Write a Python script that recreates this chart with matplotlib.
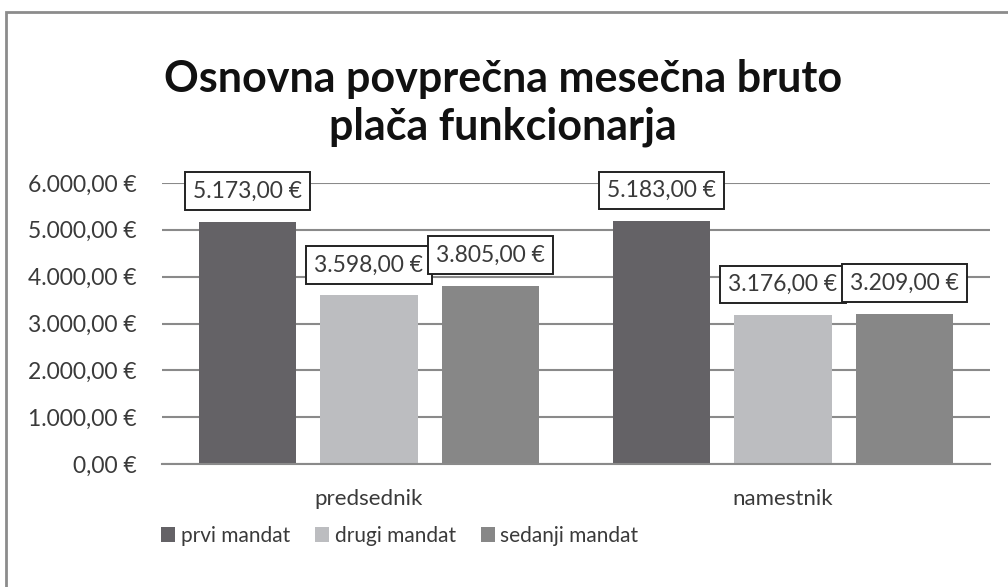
import matplotlib as mpl
import matplotlib.pyplot as plt
import numpy as np
from matplotlib.patches import Rectangle

mpl.rcParams['font.family'] = ['Lato', 'DejaVu Sans']

categories = ['predsednik', 'namestnik']
series_names = ['prvi mandat', 'drugi mandat', 'sedanji mandat']
prvi = [5173, 5183]
drugi = [3598, 3176]
sedanji = [3805, 3209]
colors = ['#646266', '#bcbdc0', '#878787']
yticks = [0, 1000, 2000, 3000, 4000, 5000, 6000]


def eur(v):
    s = f"{v:,.2f}".replace(',', 'X').replace('.', ',').replace('X', '.')
    return s + ' €'


txt_color = '#3a3a3a'

fig = plt.figure(figsize=(10.08, 5.87), dpi=100)
ax = fig.add_axes([162 / 1008, 1 - 464 / 587, 828 / 1008, (464 - 183) / 587])

x = np.arange(len(categories))
width = 0.235
offset = 0.293
for i, (vals, name) in enumerate(zip([prvi, drugi, sedanji], series_names)):
    pos = x + (i - 1) * offset
    ax.bar(pos, vals, width=width, color=colors[i], label=name, zorder=2)
    for px, v in zip(pos, vals):
        ax.annotate(eur(v), (px, v), xytext=(0, 22), textcoords='offset points',
                    ha='center', va='center', fontsize=16.5,
                    color=txt_color, zorder=5,
                    bbox=dict(boxstyle='square,pad=0.36', fc='white', ec='#222222', lw=1.4))

ax.set_xlim(-0.5, 1.5)
ax.set_ylim(0, 6000)
ax.set_yticks(yticks)
ax.set_yticklabels([eur(v) for v in yticks], fontsize=16.5, color=txt_color)
ax.set_xticks(x)
ax.set_xticklabels(categories, fontsize=16, color=txt_color)
ax.tick_params(axis='y', length=0, pad=18)
ax.tick_params(axis='x', length=0, pad=18)
ax.grid(axis='y', color='#8a8a8a', lw=1.5, zorder=0)
for s in ['top', 'right', 'left']:
    ax.spines[s].set_visible(False)
ax.spines['bottom'].set_color('#8a8a8a')
ax.spines['bottom'].set_linewidth(1.5)

fig.text(503 / 1008, 1 - 103 / 587, 'Osnovna povprečna mesečna bruto\nplača funkcionarja',
         ha='center', va='center', fontsize=31, fontweight='bold', color='#111111',
         linespacing=1.2)

leg = fig.legend(loc='center left', bbox_to_anchor=(142 / 1008, 1 - 536 / 587), ncol=3,
                 frameon=False, fontsize=15, handlelength=0.7, handleheight=0.7,
                 handletextpad=0.25, columnspacing=1.2)
for t in leg.get_texts():
    t.set_color(txt_color)

fig.patches.append(Rectangle((6 / 1008, -0.2), 1.2, 1 - 12 / 587 + 0.2,
                             transform=fig.transFigure, fill=False,
                             ec='#8c8c8c', lw=2, zorder=0))

fig.savefig('out.png', dpi=100)
